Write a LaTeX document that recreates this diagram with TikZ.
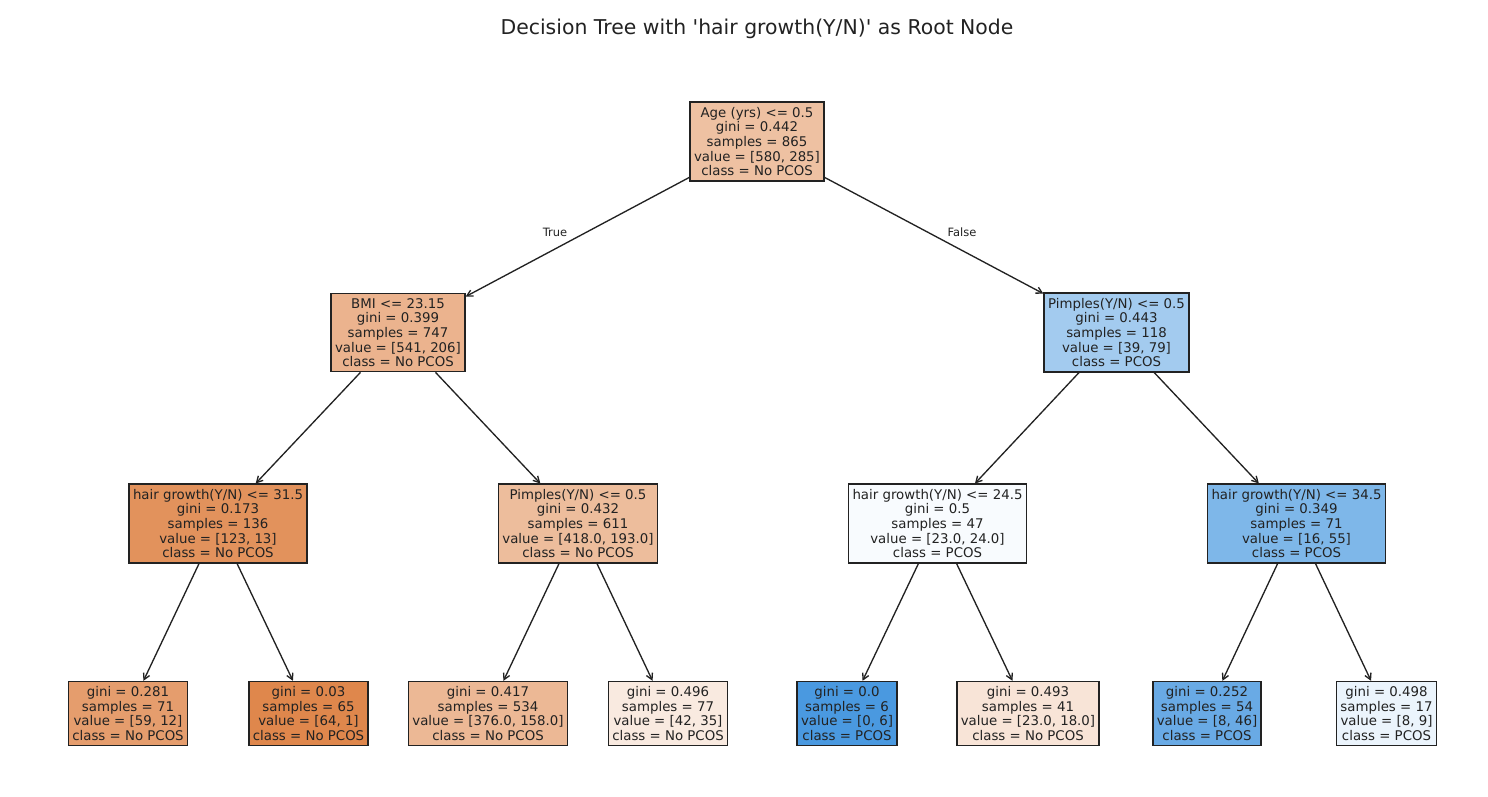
\documentclass[tikz,border=0pt]{standalone}
\usepackage{fontspec}
\setmainfont{DejaVu Sans}
\usetikzlibrary{arrows.meta}
\definecolor{nopcos}{HTML}{DE8548}
\definecolor{pcos}{HTML}{4A99E0}
\definecolor{ink}{HTML}{222222}
\begin{document}
\begin{tikzpicture}[x=0.75pt,y=-0.75pt,
    box/.style={draw=ink,line width=1.1pt,align=center,text=ink,
        font=\fontsize{10}{11}\selectfont,inner xsep=3pt,inner ysep=3.6pt},
    lbl/.style={text=ink,font=\fontsize{8.6}{10}\selectfont},
    link/.style={draw=ink,line width=1pt,-{Straight Barb[length=4.5pt,width=5pt]}}]
    \useasboundingbox (0,0) rectangle (1488,796);
    \node[font=\fontsize{15.3}{18}\selectfont,text=ink] (T) at (757,29) {Decision Tree with \textquotesingle hair growth(Y/N)\textquotesingle\ as Root Node};
    % level 0 and 1
    \node[box,fill=nopcos!51!white] (A) at (757,141.5) {Age (yrs) <= 0.5\\gini = 0.442\\samples = 865\\value = [580, 285]\\class = No PCOS};
    \node[box,fill=nopcos!62!white] (B) at (398,332.5) {BMI <= 23.15\\gini = 0.399\\samples = 747\\value = [541, 206]\\class = No PCOS};
    \node[box,fill=pcos!51!white] (C) at (1116.5,332.5) {Pimples(Y/N) <= 0.5\\gini = 0.443\\samples = 118\\value = [39, 79]\\class = PCOS};
    % level 2
    \node[box,fill=nopcos!89!white] (BL) at (218,523.5) {hair growth(Y/N) <= 31.5\\gini = 0.173\\samples = 136\\value = [123, 13]\\class = No PCOS};
    \node[box,fill=nopcos!54!white] (BR) at (578,523.5) {Pimples(Y/N) <= 0.5\\gini = 0.432\\samples = 611\\value = [418.0, 193.0]\\class = No PCOS};
    \node[box,fill=pcos!4!white] (CL) at (937.5,523.5) {hair growth(Y/N) <= 24.5\\gini = 0.5\\samples = 47\\value = [23.0, 24.0]\\class = PCOS};
    \node[box,fill=pcos!71!white] (CR) at (1296.5,523.5) {hair growth(Y/N) <= 34.5\\gini = 0.349\\samples = 71\\value = [16, 55]\\class = PCOS};
    % leaves
    \node[box,fill=nopcos!80!white] (L1) at (128,713.5) {gini = 0.281\\samples = 71\\value = [59, 12]\\class = No PCOS};
    \node[box,fill=nopcos!98!white] (L2) at (308.5,713.5) {gini = 0.03\\samples = 65\\value = [64, 1]\\class = No PCOS};
    \node[box,fill=nopcos!58!white] (L3) at (488,713.5) {gini = 0.417\\samples = 534\\value = [376.0, 158.0]\\class = No PCOS};
    \node[box,fill=nopcos!17!white] (L4) at (668,713.5) {gini = 0.496\\samples = 77\\value = [42, 35]\\class = No PCOS};
    \node[box,fill=pcos] (L5) at (847,713.5) {gini = 0.0\\samples = 6\\value = [0, 6]\\class = PCOS};
    \node[box,fill=nopcos!22!white] (L6) at (1028,713.5) {gini = 0.493\\samples = 41\\value = [23.0, 18.0]\\class = No PCOS};
    \node[box,fill=pcos!83!white] (L7) at (1207,713.5) {gini = 0.252\\samples = 54\\value = [8, 46]\\class = PCOS};
    \node[box,fill=pcos!11!white] (L8) at (1386.5,713.5) {gini = 0.498\\samples = 17\\value = [8, 9]\\class = PCOS};
    % connectors
    \draw[link] (A) -- (B);
    \draw[link] (A) -- (C);
    \draw[link] (B) -- (BL);
    \draw[link] (B) -- (BR);
    \draw[link] (C) -- (CL);
    \draw[link] (C) -- (CR);
    \draw[link] (BL) -- (L1);
    \draw[link] (BL) -- (L2);
    \draw[link] (BR) -- (L3);
    \draw[link] (BR) -- (L4);
    \draw[link] (CL) -- (L5);
    \draw[link] (CL) -- (L6);
    \draw[link] (CR) -- (L7);
    \draw[link] (CR) -- (L8);
    \node[lbl] (t) at (555,232) {True};
    \node[lbl] (f) at (962,232) {False};
\end{tikzpicture}
\end{document}
